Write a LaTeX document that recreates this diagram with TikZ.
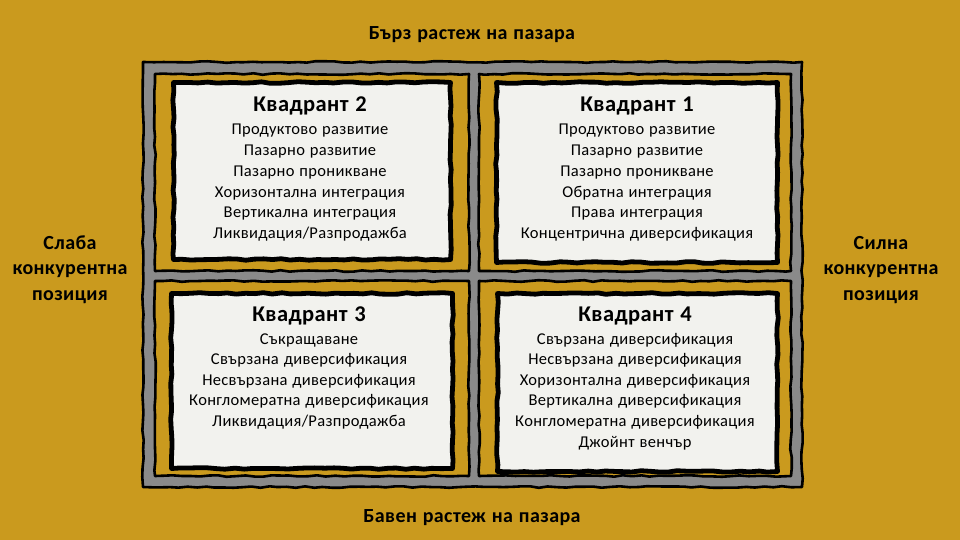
\documentclass[tikz,border=0pt]{standalone}
\usepackage{fontspec}
\setmainfont{Carlito}
\newfontfamily\widefont{Carlito}[LetterSpace=2,WordSpace=1.2]
\usetikzlibrary{decorations.pathmorphing}
\definecolor{gold}{RGB}{202,154,30}
\definecolor{framegray}{RGB}{138,138,138}
\definecolor{paper}{RGB}{242,242,238}
\begin{document}
\begin{tikzpicture}[x=1pt,y=-1pt,
  rough/.style={decorate,decoration={random steps,segment length=9pt,amplitude=0.8pt},line join=round},
  framebox/.style={rough,draw=black,line width=2.6pt,fill=framegray},
  cellbox/.style={rough,draw=black,line width=2.6pt,fill=gold},
  panelbox/.style={rough,draw=black,line width=4.8pt,fill=paper},
  qtitle/.style={anchor=base,inner sep=0pt,font=\widefont\bfseries\fontsize{22.5}{24}\selectfont},
  qitem/.style={anchor=base,inner sep=0pt,font=\widefont\fontsize{16.5}{20}\selectfont},
  axislabel/.style={anchor=base,inner sep=0pt,font=\widefont\bfseries\fontsize{20}{24}\selectfont}]
\pgfmathsetseed{11}
\fill[gold] (0,0) rectangle (960,540);
\useasboundingbox (0,0) rectangle (960,540);

% frame
\draw[framebox] (143,62) rectangle (802,487);
\draw[cellbox] (155,74) rectangle (469,271);
\draw[cellbox] (479,74) rectangle (791,271);
\draw[cellbox] (155,281) rectangle (469,476);
\draw[cellbox] (479,281) rectangle (791,476);

% panels
\draw[panelbox] (173.5,82.5) rectangle (450.5,259.5);
\draw[panelbox] (496.5,82.5) rectangle (777.5,262.5);
\draw[panelbox] (171.5,293.5) rectangle (452.5,468.5);
\draw[panelbox] (497.5,293.5) rectangle (777.5,471.5);

% Quadrant 2
\node[qtitle] (q2t) at (310,112) {Квадрант 2};
\foreach \t [count=\i] in {Продуктово развитие,Пазарно развитие,Пазарно проникване,Хоризонтална интеграция,Вертикална интеграция,Ликвидация/Разпродажба}
  \node[qitem] (q2-\i) at (310,{135+20.7*(\i-1)}) {\t};

% Quadrant 1
\node[qtitle] (q1t) at (637,112) {Квадрант 1};
\foreach \t [count=\i] in {Продуктово развитие,Пазарно развитие,Пазарно проникване,Обратна интеграция,Права интеграция,Концентрична диверсификация}
  \node[qitem] (q1-\i) at (637,{135+20.7*(\i-1)}) {\t};

% Quadrant 3
\node[qtitle] (q3t) at (309,321) {Квадрант 3};
\foreach \t [count=\i] in {Съкращаване,Свързана диверсификация,Несвързана диверсификация,Конгломератна диверсификация,Ликвидация/Разпродажба}
  \node[qitem] (q3-\i) at (309,{344+20.6*(\i-1)}) {\t};

% Quadrant 4
\node[qtitle] (q4t) at (635,321) {Квадрант 4};
\foreach \t [count=\i] in {Свързана диверсификация,Несвързана диверсификация,Хоризонтална диверсификация,Вертикална диверсификация,Конгломератна диверсификация,Джойнт венчър}
  \node[qitem] (q4-\i) at (635,{344+20.6*(\i-1)}) {\t};

% axis labels
\node[axislabel] (top) at (472,40) {Бърз растеж на пазара};
\node[axislabel] (bottom) at (472,522) {Бавен растеж на пазара};
\foreach \t [count=\i] in {Слаба,конкурентна,позиция}
  \node[axislabel] (left-\i) at (70,{249+25.5*(\i-1)}) {\t};
\foreach \t [count=\i] in {Силна,конкурентна,позиция}
  \node[axislabel] (right-\i) at (881,{249+25.5*(\i-1)}) {\t};
\end{tikzpicture}
\end{document}
